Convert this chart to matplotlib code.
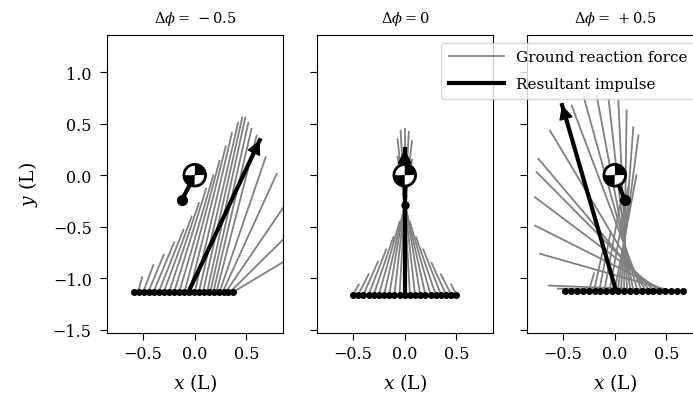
import matplotlib
matplotlib.use("Agg")
import matplotlib.pyplot as plt
from matplotlib.patches import Wedge, Circle

plt.rcParams['font.family'] = ['DejaVu Serif']
plt.rcParams['mathtext.fontset'] = 'dejavuserif'
plt.rcParams['font.size'] = 11.5
plt.rcParams['xtick.major.size'] = 5
plt.rcParams['ytick.major.size'] = 5

titles = [r'$\Delta\phi =\,-0.5$', r'$\Delta\phi = 0$', r'$\Delta\phi =\,+0.5$']

# foot contact points (x) and foot height per panel
foot1_x = [-0.585, -0.537, -0.489, -0.441, -0.393, -0.345, -0.297, -0.249, -0.201, -0.153, -0.105,
           -0.057, -0.009, 0.039, 0.087, 0.135, 0.183, 0.231, 0.279, 0.327, 0.374]
foot1_y = -1.134
foot2_x = [-0.50, -0.45, -0.40, -0.35, -0.30, -0.25, -0.20, -0.15, -0.10, -0.05, 0.0,
           0.05, 0.10, 0.15, 0.20, 0.25, 0.30, 0.35, 0.40, 0.45, 0.50]
foot2_y = -1.157
foot3_x = [-0.48, -0.423, -0.366, -0.309, -0.252, -0.195, -0.138, -0.081, -0.024, 0.033, 0.09,
           0.147, 0.204, 0.261, 0.318, 0.375, 0.432, 0.489, 0.546, 0.603, 0.66]
foot3_y = -1.118

# ground reaction force lines: start x on the foot, tip (x, y)
grf1_sx = [-0.55, -0.50, -0.45, -0.40, -0.35, -0.30, -0.25, -0.20, -0.15, -0.10, -0.05, 0.0,
           0.04, 0.08, 0.12, 0.15, 0.18, 0.21, 0.24, 0.27, 0.30, 0.34, 0.37]
grf1_tx = [-0.51, -0.40, -0.30, -0.20, -0.11, -0.03, 0.04, 0.11, 0.18, 0.24, 0.30, 0.36,
           0.42, 0.46, 0.49, 0.52, 0.55, 0.60, 0.687, 0.794, 0.86, 0.86, 0.86]
grf1_ty = [-0.99, -0.87, -0.77, -0.65, -0.53, -0.40, -0.27, -0.13, 0.0, 0.14, 0.28, 0.41,
           0.51, 0.56, 0.56, 0.51, 0.45, 0.385, 0.175, 0.013, -0.31, -0.62, -0.84]

grf2_sx = [-0.50, -0.45, -0.40, -0.35, -0.30, -0.25, -0.20, -0.15, -0.10, -0.05, 0.0,
           0.05, 0.10, 0.15, 0.20, 0.25, 0.30, 0.35, 0.40, 0.45, 0.50]
grf2_tx = [-0.445, -0.35, -0.26, -0.18, -0.11, -0.05, 0.02, 0.07, 0.07, 0.04, 0.0,
           -0.04, -0.07, -0.07, -0.02, 0.05, 0.11, 0.18, 0.26, 0.35, 0.45]
grf2_ty = [-1.06, -0.96, -0.84, -0.72, -0.60, -0.45, -0.20, 0.15, 0.33, 0.42, 0.45,
           0.43, 0.35, 0.18, -0.18, -0.45, -0.60, -0.72, -0.85, -0.96, -1.06]

grf3_sx = [-0.25, -0.20, -0.15, -0.10, -0.05, 0.0, 0.03, 0.06, 0.09, 0.12, 0.15,
           0.18, 0.22, 0.26, 0.30, 0.34, 0.38, 0.43, 0.48, 0.53, 0.58, 0.62]
grf3_tx = [-0.20, -0.12, -0.04, 0.05, 0.13, 0.21, 0.23, 0.18, 0.115, 0.035, -0.06,
           -0.175, -0.30, -0.417, -0.627, -0.74, -0.757, -0.773, -0.773, -0.724, -0.64, -0.55]
grf3_ty = [-0.95, -0.75, -0.55, -0.29, -0.12, 0.0, 0.385, 0.465, 0.63, 0.72, 0.74,
           0.77, 0.756, 0.675, 0.433, 0.16, 0.03, -0.213, -0.488, -0.762, -1.07, -1.10]

# resultant impulse: base and tip
imp_base = [(-0.06, -1.13), (0.0, -1.157), (0.012, -1.118)]
imp_tip = [(0.63, 0.34), (0.0, 0.25), (-0.51, 0.68)]

# leg marker end (from centre of mass)
leg_end = [(-0.127, -0.245), (0.0, -0.29), (0.10, -0.245)]

feet = [(foot1_x, foot1_y), (foot2_x, foot2_y), (foot3_x, foot3_y)]
grfs = [(grf1_sx, grf1_tx, grf1_ty), (grf2_sx, grf2_tx, grf2_ty), (grf3_sx, grf3_tx, grf3_ty)]

fig = plt.figure(figsize=(6.93, 4.06), dpi=100)
W, H = 693, 406
lefts = [107, 317, 527]
axes = []
for k in range(3):
    ax = fig.add_axes([lefts[k] / W, (H - 334) / H, 176 / W, 298 / H])
    axes.append(ax)

for k, ax in enumerate(axes):
    fx, fy = feet[k]
    sx, tx, ty = grfs[k]
    for i in range(len(sx)):
        ax.plot([sx[i], tx[i]], [fy, ty[i]], color='gray', lw=1.3,
                label='Ground reaction force' if i == 0 else None, zorder=2)
    ax.plot(fx, [fy] * len(fx), 'k-o', lw=2, ms=4, zorder=3)

    b, t = imp_base[k], imp_tip[k]
    ax.plot([b[0], t[0]], [b[1], t[1]], color='k', lw=3, label='Resultant impulse', zorder=4)
    ax.annotate('', xy=t, xytext=(b[0] + 0.9 * (t[0] - b[0]), b[1] + 0.9 * (t[1] - b[1])),
                arrowprops=dict(arrowstyle='-|>', color='k', lw=1, mutation_scale=22,
                                shrinkA=0, shrinkB=0), zorder=5)

    # leg + centre of mass symbol
    le = leg_end[k]
    ax.plot([0, le[0]], [0, le[1]], color='k', lw=3, zorder=5)
    ax.plot(le[0], le[1], 'ko', ms=7 if k != 1 else 5, zorder=5)
    r = 0.105
    for a0, col in [(0, 'k'), (90, 'w'), (180, 'k'), (270, 'w')]:
        ax.add_patch(Wedge((0, 0), r, a0, a0 + 90, facecolor=col, edgecolor='none', zorder=6))
    ax.add_patch(Circle((0, 0), r, facecolor='none', edgecolor='k', lw=2, zorder=7))

    ax.set_xlim(-0.85, 0.855)
    ax.set_ylim(-1.53, 1.36)
    ax.set_xticks([-0.5, 0.0, 0.5])
    ax.set_yticks([-1.5, -1.0, -0.5, 0.0, 0.5, 1.0])
    ax.tick_params(axis='y', pad=6)
    ax.set_title(titles[k], fontsize=10.5, pad=9)
    ax.set_xlabel(r'$x$ (L)', fontsize=13.5, labelpad=7)
    if k == 0:
        ax.set_ylabel(r'$y$ (L)', fontsize=13.5, labelpad=9)
    else:
        ax.set_yticklabels([])

axes[2].legend(loc='upper right', fontsize=11, handlelength=3.6, labelspacing=0.85, borderpad=0.5)

fig.savefig('out.png', dpi=100)
